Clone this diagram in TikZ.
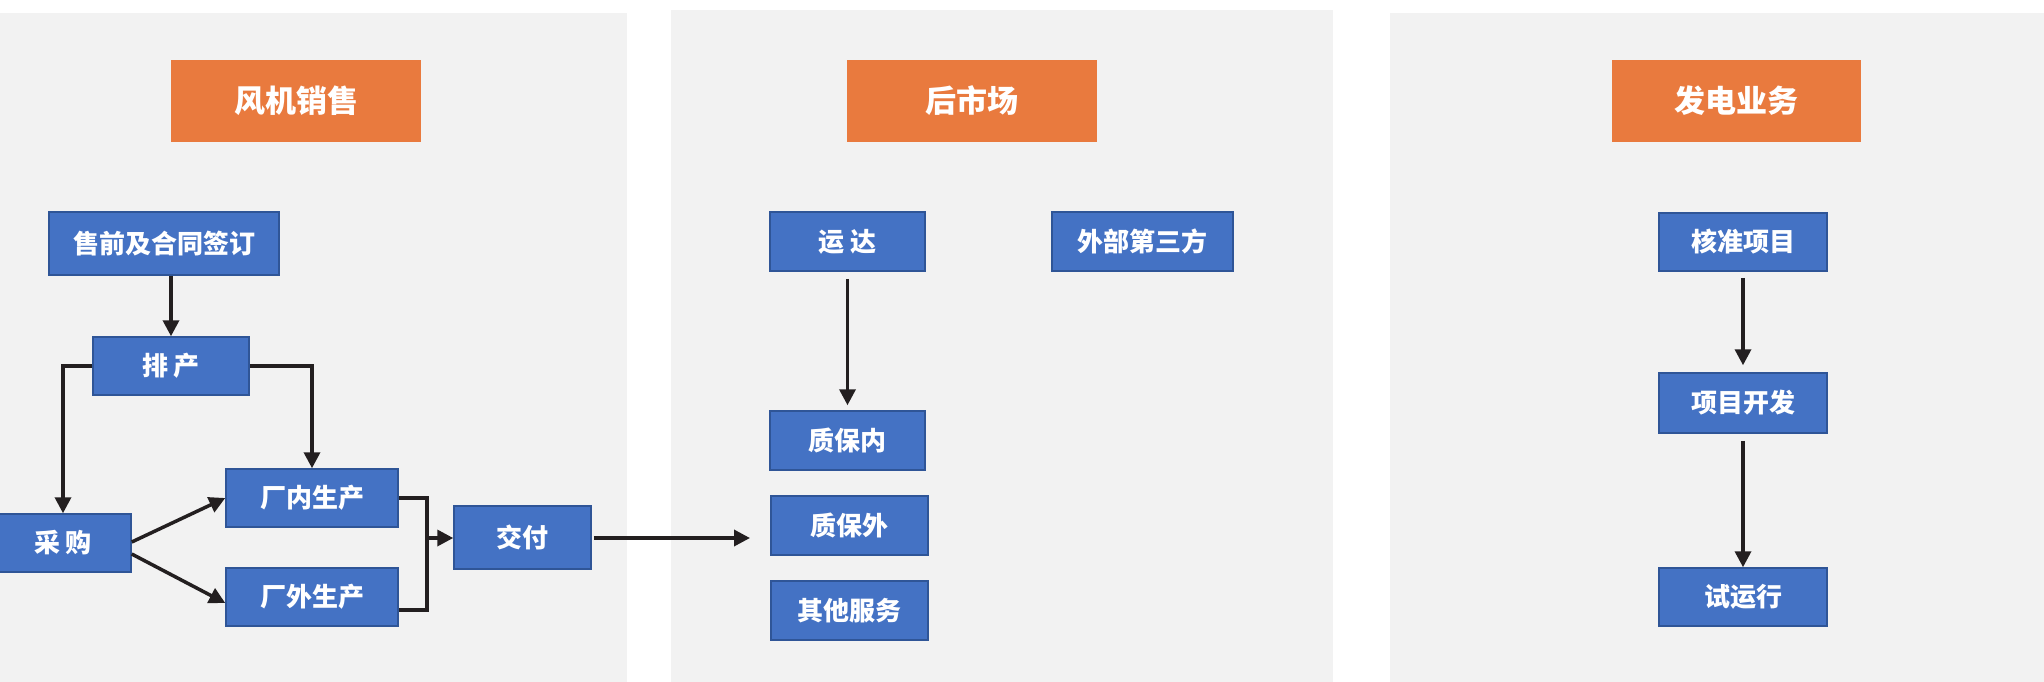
\documentclass[tikz,border=0pt]{standalone}
\usepackage{fontspec}
\setmainfont{Noto Sans CJK SC}
\usetikzlibrary{arrows.meta}
\definecolor{panelbg}{HTML}{F2F2F2}
\definecolor{boxblue}{HTML}{4472C4}
\definecolor{boxedge}{HTML}{2F5597}
\definecolor{titleor}{HTML}{E97A3E}
\definecolor{lineblk}{HTML}{231F20}
\tikzset{
  panel/.style={fill=panelbg, draw=none},
  titlebox/.style={fill=titleor, draw=none, text=white, inner sep=0pt,
    font=\fontsize{31}{36}\selectfont\bfseries},
  bluebox/.style={fill=boxblue, draw=boxedge, line width=1.5pt, text=white, inner sep=0pt,
    font=\fontsize{26}{30}\selectfont\bfseries},
  conn/.style={draw=lineblk, line width=3.5pt},
  arr/.style={conn, -{Triangle[length=16pt,width=16pt]}},
}
\begin{document}
\begin{tikzpicture}[x=1pt,y=-1pt]
\useasboundingbox (0,0) rectangle (2044,681);
\fill[white] (0,0) rectangle (2044,681);
% panels
\fill[panel] (-5,13) rectangle (627,690);
\fill[panel] (671,10) rectangle (1333,690);
\fill[panel] (1390,13) rectangle (2050,690);
% titles
\node[titlebox, minimum width=250pt, minimum height=82pt] (t1) at (296,101) {风机销售};
\node[titlebox, minimum width=250pt, minimum height=82pt] (t2) at (972,101) {后市场};
\node[titlebox, minimum width=249pt, minimum height=82pt] (t3) at (1736.5,101) {发电业务};
% panel 1
\node[bluebox, minimum width=230pt, minimum height=63pt] (sq) at (164,243.5) {售前及合同签订};
\node[bluebox, minimum width=156pt, minimum height=58pt] (pc) at (171,366) {排\ 产};
\node[bluebox, minimum width=172pt, minimum height=58pt] (cn) at (312,498) {厂内生产};
\node[bluebox, minimum width=172pt, minimum height=58pt] (cw) at (312,597) {厂外生产};
\node[bluebox, minimum width=136pt, minimum height=58pt] (cg) at (63,543) {采\ 购};
\node[bluebox, minimum width=137pt, minimum height=63pt] (jf) at (522.5,537.5) {交付};
% panel 2
\node[bluebox, minimum width=155pt, minimum height=59pt] (yd) at (847.5,241.5) {运\ 达};
\node[bluebox, minimum width=181pt, minimum height=59pt] (wb) at (1142.5,241.5) {外部第三方};
\node[bluebox, minimum width=155pt, minimum height=59pt] (zbn) at (847.5,440.5) {质保内};
\node[bluebox, minimum width=157pt, minimum height=59pt] (zbw) at (849.5,525.5) {质保外};
\node[bluebox, minimum width=157pt, minimum height=59pt] (qt) at (849.5,610.5) {其他服务};
% panel 3
\node[bluebox, minimum width=168pt, minimum height=58pt] (hz) at (1743,242) {核准项目};
\node[bluebox, minimum width=168pt, minimum height=60pt] (xm) at (1743,403) {项目开发};
\node[bluebox, minimum width=168pt, minimum height=58pt] (sy) at (1743,597) {试运行};
% connectors panel 1
\draw[arr] (pc.north |- sq.south) -- (pc.north);
\draw[arr] (pc.west) -| (cg.north);
\draw[arr] (pc.east) -| (cn.north);
\draw[arr] ([yshift=1pt]cg.east) -- (cn.west);
\draw[arr] ([yshift=-11pt]cg.east) -- ([yshift=-6pt]cw.west);
\coordinate (mg) at (427,538);
\coordinate (cwr) at ([yshift=-13pt]cw.east);
\draw[conn] (cn.east) -- (cn.east -| mg) -- (mg |- cwr) -- (cwr);
\draw[arr] (mg) -- (jf.west |- mg);
\coordinate (jfend) at (750,538);
\draw[arr] ([xshift=2pt]jf.east |- mg) -- (jfend);
% panel 2
\draw[arr, shorten <=7pt, shorten >=5pt] (yd.south) -- (zbn.north);
% panel 3
\draw[arr, shorten <=6pt, shorten >=7pt] (hz.south) -- (xm.north);
\draw[arr, shorten <=7pt] (xm.south) -- (sy.north);
\end{tikzpicture}
\end{document}
